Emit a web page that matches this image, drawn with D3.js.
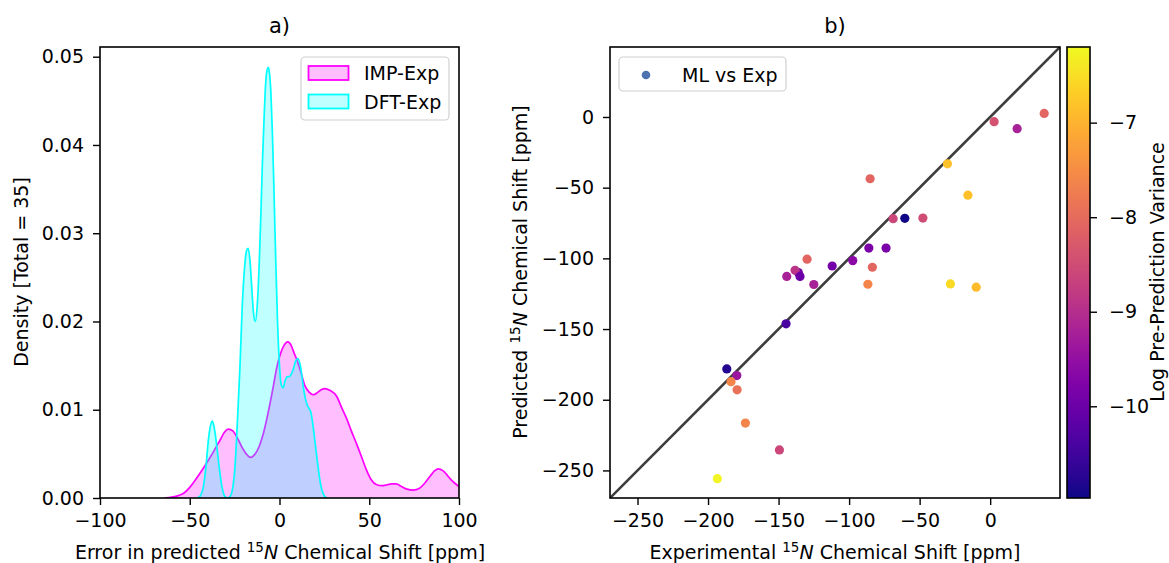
<!DOCTYPE html>
<html>
<head>
<meta charset="utf-8">
<script src="https://cdn.jsdelivr.net/npm/d3@7"></script>
<style>
  body { margin: 0; background: #fff; }
  svg { font-family: "DejaVu Sans", sans-serif; }
</style>
</head>
<body>
<svg width="1169" height="563"></svg>
<script>
// ---- panel a) KDE curves (error in ppm, density) ----
const impX = [-64, -60, -56, -53.6, -50, -47, -44.3, -40.5, -36.9, -33, -30.5, -28.5, -26, -23.5, -21, -18.5, -16.1, -13.5, -11, -9, -6.5, -3.5, -1.5, 0.3, 2.5, 4.6, 6.5, 8, 9.6, 12, 14.2, 16.5, 18.8, 21.5, 23.5, 25.3, 28, 31.9, 34.5, 37.4, 40, 43, 46, 48.6, 51, 54.2, 57, 60, 62.5, 65, 68, 71, 74.5, 78, 81, 84, 86.5, 88.5, 91, 93, 95, 97.5, 100];
const impY = [0, 0.0001, 0.0003, 0.0005, 0.0012, 0.002, 0.0028, 0.004, 0.0052, 0.0066, 0.0075, 0.0078, 0.0076, 0.0068, 0.0058, 0.005, 0.0046, 0.005, 0.006, 0.0073, 0.0095, 0.0126, 0.0148, 0.0162, 0.0173, 0.0177, 0.0173, 0.0165, 0.0157, 0.0142, 0.0127, 0.012, 0.0117, 0.012, 0.0123, 0.0124, 0.0122, 0.0115, 0.0103, 0.009, 0.0076, 0.0061, 0.0045, 0.0031, 0.0021, 0.0015, 0.0014, 0.0015, 0.0016, 0.0016, 0.0013, 0.001, 0.0009, 0.0011, 0.0017, 0.0025, 0.0031, 0.0033, 0.0031, 0.0027, 0.0022, 0.0017, 0.0013];

const dftX = [-46, -44.3, -42.5, -41, -39.5, -38.2, -37.4, -36.5, -35, -33.5, -32, -30.5, -29, -27.5, -26, -24.8, -23.5, -22, -20.8, -19.5, -18.4, -17.5, -16.5, -15.5, -14.5, -13.5, -12.5, -11.4, -10.4, -9.6, -8.6, -7.7, -6.9, -6.2, -5.5, -4.7, -3.9, -3.1, -2.1, -1.1, 0, 1, 2, 3, 4, 5.8, 7.5, 9, 10.3, 11.8, 13.3, 14.5, 15.5, 17.5, 18.8, 19.8, 21, 22, 23.5, 24.8, 26.3];
const dftY = [0, 0.0002, 0.0012, 0.0035, 0.0068, 0.0084, 0.0087, 0.0081, 0.006, 0.0033, 0.0012, 0.0002, 0, 0.0002, 0.0012, 0.0035, 0.0085, 0.015, 0.0215, 0.026, 0.028, 0.0283, 0.027, 0.024, 0.021, 0.02, 0.0215, 0.026, 0.032, 0.0375, 0.043, 0.047, 0.0485, 0.0488, 0.048, 0.0455, 0.041, 0.035, 0.027, 0.02, 0.015, 0.0128, 0.0125, 0.0132, 0.0137, 0.0138, 0.0145, 0.0155, 0.0158, 0.0148, 0.0125, 0.0112, 0.0105, 0.0097, 0.008, 0.0063, 0.0043, 0.0027, 0.001, 0.0003, 0];

const errTicks = [-100, -50, 0, 50, 100];
const densTicks = [0, 0.01, 0.02, 0.03, 0.04, 0.05];

// ---- panel b) scatter ----
const expShift = [-30.3, -15.8, -85.1, -68.8, -60.5, -47.7, -86, -73.8, -97.4, -112, -129.8, -83.5, -86.7, -28.2, -144.2, -136, -138.3, -134.8, -125, -144.7, -186.7, -179.6, -183.7, -179.4, -173.5, -149.4, -193.4, 2.8, 19.1, 38.3, -9.9];
const predShift = [-33.1, -55.3, -43.7, -71.9, -71.7, -71.5, -92.7, -92.7, -101.6, -105.4, -100.6, -106.3, -118.3, -118.1, -112.8, -110, -108.4, -112.8, -118.5, -146.3, -178.2, -182.9, -187.2, -193, -216.5, -235.5, -255.8, -3.3, -8.3, 2.5, -120.4];
const logVar = [-6.82, -6.85, -8.1, -8.6, -10.95, -8.5, -9.8, -9.8, -9.6, -9.9, -8.1, -8.1, -7.6, -6.55, -9.2, -9.9, -8.9, -10.0, -9.2, -10.4, -10.8, -9.4, -7.6, -7.9, -7.6, -8.6, -6.25, -8.4, -9.2, -8.1, -6.9];

const shiftTicks = [-250, -200, -150, -100, -50, 0];
const cbarTicks = [-7, -8, -9, -10];

const svg = d3.select("svg");
const fs = 19;

// ======== panel a ========
const ax = { left: 100, right: 459, top: 47, bottom: 498 };
const xA = d3.scaleLinear().domain([-100, 100]).range([ax.left, ax.right]);
const yA = d3.scaleLinear().domain([0, 0.0511]).range([ax.bottom, ax.top]);

svg.append("defs").append("clipPath").attr("id", "clipA")
  .append("rect").attr("x", ax.left).attr("y", ax.top)
  .attr("width", ax.right - ax.left).attr("height", ax.bottom - ax.top);

const kde = [
  { name: "IMP-Exp", xs: impX, ys: impY, color: "#ff00ff" },
  { name: "DFT-Exp", xs: dftX, ys: dftY, color: "#00ffff" }
];

const area = d3.area().x(d => xA(d[0])).y0(yA(0)).y1(d => yA(d[1])).curve(d3.curveMonotoneX);
const line = d3.line().x(d => xA(d[0])).y(d => yA(d[1])).curve(d3.curveMonotoneX);

const gA = svg.append("g").attr("clip-path", "url(#clipA)");
kde.forEach(k => {
  const pts = k.xs.map((x, i) => [x, k.ys[i]]);
  gA.append("path").attr("d", area(pts)).attr("fill", k.color).attr("fill-opacity", 0.25);
  gA.append("path").attr("d", line(pts)).attr("fill", "none")
    .attr("stroke", k.color).attr("stroke-width", 1.7);
});

svg.append("g").attr("transform", `translate(0,${ax.bottom})`)
  .call(d3.axisBottom(xA).tickValues(errTicks).tickFormat(d3.format("d")).tickSizeOuter(0).tickSize(7).tickPadding(9))
  .call(g => g.select(".domain").remove());
svg.append("g").attr("transform", `translate(${ax.left},0)`)
  .call(d3.axisLeft(yA).tickValues(densTicks).tickFormat(d3.format(".2f")).tickSizeOuter(0).tickSize(7).tickPadding(9))
  .call(g => g.select(".domain").remove());

svg.append("rect").attr("x", ax.left).attr("y", ax.top)
  .attr("width", ax.right - ax.left).attr("height", ax.bottom - ax.top)
  .attr("fill", "none").attr("stroke", "#000").attr("stroke-width", 1.6);

svg.append("text").attr("x", (ax.left + ax.right) / 2).attr("y", 33)
  .attr("text-anchor", "middle").attr("font-size", 21).text("a)");

const xlabA = svg.append("text").attr("x", 280).attr("y", 559)
  .attr("text-anchor", "middle").attr("font-size", fs);
xlabA.append("tspan").text("Error in predicted ");
xlabA.append("tspan").attr("font-size", 13.5).attr("dy", -7).text("15");
xlabA.append("tspan").attr("font-style", "italic").attr("dy", 7).text("N");
xlabA.append("tspan").text(" Chemical Shift [ppm]");

svg.append("text").attr("transform", "translate(28,272) rotate(-90)")
  .attr("text-anchor", "middle").attr("font-size", fs).text("Density [Total = 35]");

// legend a
const legA = svg.append("g");
legA.append("rect").attr("x", 301).attr("y", 57).attr("width", 148).attr("height", 63)
  .attr("rx", 4).attr("fill", "#fff").attr("fill-opacity", 0.8)
  .attr("stroke", "#d0d0d0").attr("stroke-width", 1.2);
kde.forEach((k, i) => {
  const yy = 66 + i * 28.5;
  legA.append("rect").attr("x", 308.5).attr("y", yy).attr("width", 40).attr("height", 14)
    .attr("fill", k.color).attr("fill-opacity", 0.25)
    .attr("stroke", k.color).attr("stroke-width", 1.8);
  legA.append("text").attr("x", 364).attr("y", yy + 14).attr("font-size", fs).text(k.name);
});

// ======== panel b ========
const bx = { left: 610, right: 1060, top: 47, bottom: 498 };
const lim = [-269.5, 49.5];
const xB = d3.scaleLinear().domain(lim).range([bx.left, bx.right]);
const yB = d3.scaleLinear().domain(lim).range([bx.bottom, bx.top]);
const cMin = -10.97, cMax = -6.2;
const cNorm = d3.scaleLinear().domain([cMin, cMax]).range([0, 1]);
const col = v => d3.interpolatePlasma(cNorm(v));

svg.select("defs").append("clipPath").attr("id", "clipB")
  .append("rect").attr("x", bx.left).attr("y", bx.top)
  .attr("width", bx.right - bx.left).attr("height", bx.bottom - bx.top);

const gB = svg.append("g").attr("clip-path", "url(#clipB)");
gB.append("line")
  .attr("x1", xB(lim[0])).attr("y1", yB(lim[0]))
  .attr("x2", xB(lim[1])).attr("y2", yB(lim[1]))
  .attr("stroke", "#3d3d3d").attr("stroke-width", 2.6);

gB.selectAll("circle").data(expShift).enter().append("circle")
  .attr("cx", d => xB(d))
  .attr("cy", (d, i) => yB(predShift[i]))
  .attr("r", 4.6)
  .attr("fill", (d, i) => col(logVar[i]));

svg.append("g").attr("transform", `translate(0,${bx.bottom})`)
  .call(d3.axisBottom(xB).tickValues(shiftTicks).tickFormat(d3.format("d")).tickSizeOuter(0).tickSize(7).tickPadding(9))
  .call(g => g.select(".domain").remove());
svg.append("g").attr("transform", `translate(${bx.left},0)`)
  .call(d3.axisLeft(yB).tickValues(shiftTicks).tickFormat(d3.format("d")).tickSizeOuter(0).tickSize(7).tickPadding(9))
  .call(g => g.select(".domain").remove());

svg.append("rect").attr("x", bx.left).attr("y", bx.top)
  .attr("width", bx.right - bx.left).attr("height", bx.bottom - bx.top)
  .attr("fill", "none").attr("stroke", "#000").attr("stroke-width", 1.6);

svg.append("text").attr("x", (bx.left + bx.right) / 2).attr("y", 33)
  .attr("text-anchor", "middle").attr("font-size", 21).text("b)");

const xlabB = svg.append("text").attr("x", 835).attr("y", 559)
  .attr("text-anchor", "middle").attr("font-size", fs);
xlabB.append("tspan").text("Experimental ");
xlabB.append("tspan").attr("font-size", 13.5).attr("dy", -7).text("15");
xlabB.append("tspan").attr("font-style", "italic").attr("dy", 7).text("N");
xlabB.append("tspan").text(" Chemical Shift [ppm]");

const ylabB = svg.append("text").attr("transform", "translate(527,272) rotate(-90)")
  .attr("text-anchor", "middle").attr("font-size", fs);
ylabB.append("tspan").text("Predicted ");
ylabB.append("tspan").attr("font-size", 13.5).attr("dy", -7).text("15");
ylabB.append("tspan").attr("font-style", "italic").attr("dy", 7).text("N");
ylabB.append("tspan").text(" Chemical Shift [ppm]");

// legend b
const legB = svg.append("g");
legB.append("rect").attr("x", 619).attr("y", 57).attr("width", 167).attr("height", 34)
  .attr("rx", 4).attr("fill", "#fff").attr("fill-opacity", 0.8)
  .attr("stroke", "#d0d0d0").attr("stroke-width", 1.2);
legB.append("circle").attr("cx", 646).attr("cy", 75).attr("r", 4.3).attr("fill", "#4c72b0");
legB.append("text").attr("x", 682).attr("y", 81.5).attr("font-size", fs).text("ML vs Exp");

// colorbar
const cb = { left: 1067, right: 1090, top: 47, bottom: 498 };
const yC = d3.scaleLinear().domain([cMin, cMax]).range([cb.bottom, cb.top]);
const grad = svg.select("defs").append("linearGradient").attr("id", "plasma")
  .attr("x1", 0).attr("y1", 1).attr("x2", 0).attr("y2", 0);
d3.range(0, 1.0001, 0.05).forEach(t => {
  grad.append("stop").attr("offset", t).attr("stop-color", d3.interpolatePlasma(t));
});
svg.append("rect").attr("x", cb.left).attr("y", cb.top)
  .attr("width", cb.right - cb.left).attr("height", cb.bottom - cb.top)
  .attr("fill", "url(#plasma)").attr("stroke", "#000").attr("stroke-width", 1.6);
svg.append("g").attr("transform", `translate(${cb.right},0)`)
  .call(d3.axisRight(yC).tickValues(cbarTicks).tickFormat(d3.format("d")).tickSizeOuter(0).tickSize(7).tickPadding(12))
  .call(g => g.select(".domain").remove());
svg.append("text").attr("transform", "translate(1164,272) rotate(-90)")
  .attr("text-anchor", "middle").attr("font-size", fs).text("Log Pre-Prediction Variance");

svg.selectAll(".tick text").attr("font-size", fs).attr("fill", "#000")
  .attr("font-family", "DejaVu Sans");
svg.selectAll(".tick line").attr("stroke", "#000").attr("stroke-width", 1.4);
</script>
</body>
</html>
